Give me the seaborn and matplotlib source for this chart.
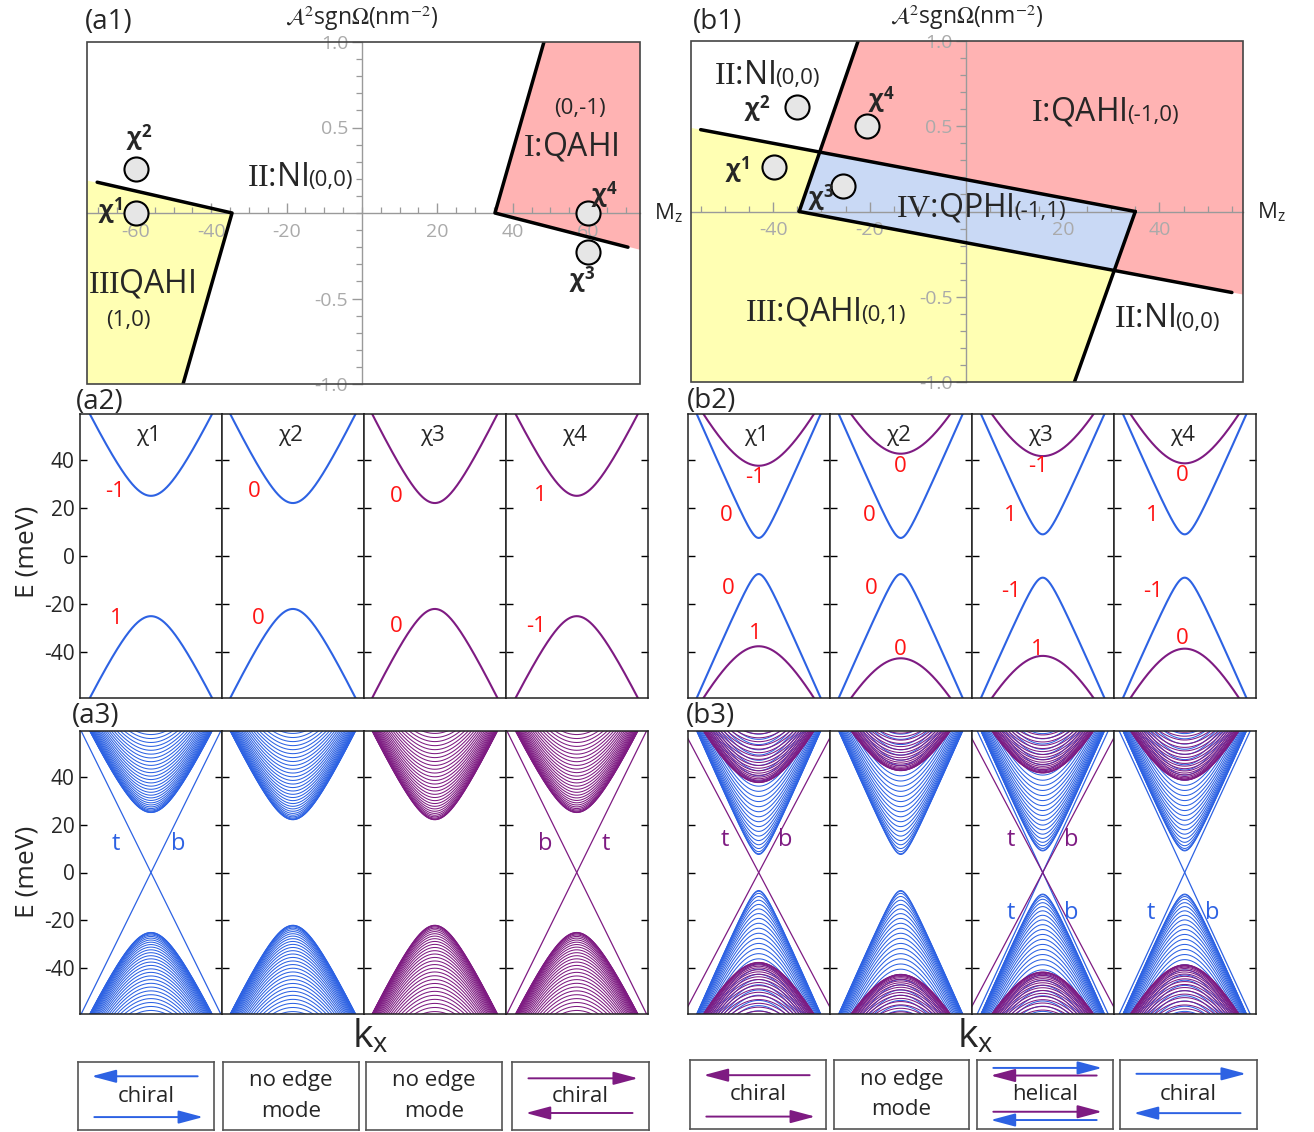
import numpy as np
import pandas as pd
import matplotlib
matplotlib.use("Agg")
import matplotlib.pyplot as plt
from matplotlib.patches import Rectangle
import seaborn as sns

sns.set_style("white")
plt.rcParams["font.family"] = ["Open Sans", "DejaVu Sans"]
plt.rcParams.update({
    "axes.unicode_minus": False,
    "mathtext.fontset": "custom",
    "mathtext.rm": "Liberation Serif",
    "mathtext.it": "Liberation Serif:italic",
    "mathtext.bf": "Open Sans:bold",
    "mathtext.sf": "Open Sans",
})

BLUE = "#2d62e3"
PURPLE = "#7e1b82"
RED = "#ff1414"
PINK = "#ffb3b3"
YELLOW = "#ffffb3"
LBLUE = "#c9d9f5"
GRID = "#9a9a9a"
TICKLAB = "#aaaaaa"
FRAME = "#444444"

# ---------------- phase diagram (a1) ----------------
a1_xlim = (-73.0, 73.8)
a1_pts_M = [-60, -60, 60, 60]
a1_pts_A = [0.0, 0.26, -0.23, 0.0]
a1_pts_name = ["1", "2", "3", "4"]
a1_name_M = [-66.9, -59.2, 58.4, 64.2]
a1_name_A = [0.01, 0.44, -0.39, 0.105]
a1_yellow_M = [-73.0, -34.5, -47.5, -73.0]
a1_yellow_A = [0.19, 0.0, -1.0, -1.0]
a1_pink_M = [35.3, 48.3, 73.8, 73.8]
a1_pink_A = [0.0, 1.0, 1.0, -0.215]
a1_bound_left_M = [-70.3, -34.5, -47.5]
a1_bound_left_A = [0.18, 0.0, -1.0]
a1_bound_right_M = [48.3, 35.3, 70.6]
a1_bound_right_A = [1.0, 0.0, -0.2]

# ---------------- phase diagram (b1) ----------------
b1_xlim = (-57.0, 57.3)
b1_pts_M = [-39.8, -35.0, -25.5, -20.5]
b1_pts_A = [0.26, 0.61, 0.15, 0.50]
b1_pts_name = ["1", "2", "3", "4"]
b1_name_M = [-47.4, -43.3, -30.0, -17.6]
b1_name_A = [0.245, 0.60, 0.08, 0.655]
b1_pink_M = [-22.4, 57.3, 57.3, 30.64, 35.0, -30.35]
b1_pink_A = [1.0, 1.0, -0.487, -0.346, 0.0, 0.3485]
b1_blue_M = [-34.6, -30.35, 35.0, 30.64]
b1_blue_A = [0.0, 0.3485, 0.0, -0.346]
b1_yellow_M = [-57.0, -30.35, -34.6, 30.64, 22.4, -57.0]
b1_yellow_A = [0.4907, 0.3485, 0.0, -0.346, -1.0, -1.0]
b1_bounds = [
    ([-55.0, 35.0], [0.48, 0.0]),
    ([-34.6, 55.0], [0.0, -0.475]),
    ([-34.6, -22.4], [0.0, 1.0]),
    ([35.0, 22.4], [0.0, -1.0]),
]

# ---------------- bulk bands (a2 / b2) ----------------
panel_names = ["χ1", "χ2", "χ3", "χ4"]
a2_gap = [25.0, 22.0, 22.0, 25.0]
a2_color = [BLUE, BLUE, PURPLE, PURPLE]
a2_velocity = 62.0
a2_chern_txt = [["-1", "1"], ["0", "0"], ["0", "0"], ["1", "-1"]]
a2_chern_k = [[-0.51, -0.49], [-0.54, -0.49], [-0.55, -0.55], [-0.52, -0.57]]
a2_chern_E = [[27.0, -26.0], [26.7, -25.8], [24.6, -29.2], [25.0, -29.2]]

b2_blue_gap = [7.5, 7.5, 9.0, 9.0]
b2_purple_gap = [37.5, 42.5, 41.5, 38.5]
b2_blue_velocity = 67.0
b2_purple_velocity = 58.5
b2_chern_txt = [["-1", "0", "0", "1"], ["0", "0", "0", "0"],
                ["-1", "1", "-1", "1"], ["0", "1", "-1", "0"]]
b2_chern_k = [[-0.05, -0.46, -0.43, -0.05], [-0.01, -0.45, -0.42, -0.01],
              [-0.07, -0.45, -0.44, -0.07], [-0.03, -0.45, -0.44, -0.03]]
b2_chern_E = [[32.5, 16.7, -13.7, -32.0], [37.0, 16.7, -13.7, -38.8],
              [37.0, 16.7, -14.6, -38.8], [33.3, 16.7, -14.6, -34.2]]

# ---------------- slab spectra (a3 / b3) ----------------
a3_subband_step = 1.85
a3_subband_count = 33
a3_edge_velocity = [60.0, 0.0, 0.0, 60.0]
a3_edge_tags = [[("t", -0.49, 12.0), ("b", 0.38, 12.0)], [], [],
                [("b", -0.44, 12.0), ("t", 0.41, 12.0)]]

b3_blue_step, b3_blue_count = 2.2, 30
b3_purple_step, b3_purple_count = 2.2, 23
b3_purple_edge_velocity = [56.0, 0.0, 56.0, 0.0]
b3_blue_edge_velocity = [0.0, 0.0, 64.0, 64.0]
b3_edge_tags = [
    [("t", -0.48, 13.7, PURPLE), ("b", 0.38, 13.7, PURPLE)],
    [],
    [("t", -0.45, 13.7, PURPLE), ("b", 0.40, 13.7, PURPLE),
     ("t", -0.45, -16.7, BLUE), ("b", 0.40, -16.7, BLUE)],
    [("t", -0.48, -16.7, BLUE), ("b", 0.39, -16.7, BLUE)],
]

# ---------------- edge-mode schematic boxes ----------------
a_box_text = ["chiral", "no edge\nmode", "no edge\nmode", "chiral"]
a_box_arrows = [[(0.79, "left", BLUE), (0.19, "right", BLUE)], [], [],
                [(0.76, "right", PURPLE), (0.25, "left", PURPLE)]]
b_box_text = ["chiral", "no edge\nmode", "helical", "chiral"]
b_box_arrows = [[(0.78, "left", PURPLE), (0.18, "right", PURPLE)], [],
                [(0.885, "right", BLUE), (0.775, "left", PURPLE),
                 (0.25, "right", PURPLE), (0.13, "left", BLUE)],
                [(0.80, "right", BLUE), (0.23, "left", BLUE)]]

W, H = 1314, 1132
fig = plt.figure(figsize=(W / 100, H / 100), dpi=100)


def px_axes(l, t, r, b):
    return fig.add_axes([l / W, 1 - b / H, (r - l) / W, (b - t) / H])


def phase_axes(ax, xlim, xticks):
    ax.set_axisbelow(False)
    for s in ["top", "right"]:
        ax.spines[s].set_visible(False)
    ax.spines["left"].set_position(("data", 0))
    ax.spines["bottom"].set_position(("data", 0))
    for s in ["left", "bottom"]:
        ax.spines[s].set_color(GRID)
        ax.spines[s].set_linewidth(1.0)
    minor = np.arange(-70, 71, 5)
    minor = minor[(minor > xlim[0]) & (minor < xlim[1])]
    ax.set_xticks(xticks)
    ax.set_xticklabels([str(v) for v in xticks])
    ax.set_xticks(minor, minor=True)
    ax.set_yticks([-1, -0.5, 0.5, 1])
    ax.set_yticklabels(["-1.0", "-0.5", "0.5", "1.0"])
    ax.set_yticks(np.round(np.arange(-1, 1.01, 0.1), 2), minor=True)
    ax.set_xlim(*xlim)
    ax.set_ylim(-1, 1)
    ax.tick_params(axis="x", which="both", direction="in", bottom=True,
                   color=GRID, labelcolor=TICKLAB, labelsize=14, pad=7)
    ax.tick_params(axis="y", which="both", direction="out", left=True,
                   color=GRID, labelcolor=TICKLAB, labelsize=14, pad=3)
    ax.tick_params(which="major", length=7, width=1)
    ax.tick_params(which="minor", length=4, width=0.9)
    ax.add_patch(Rectangle((0, 0), 1, 1, transform=ax.transAxes, fill=False,
                           ec=FRAME, lw=1.2, clip_on=False, zorder=6))
    ax.text(0, 1.07, r"$\mathcal{A}^2$sgn$\Omega$(nm$^{-2}$)",
            transform=ax.get_xaxis_transform(), ha="center", va="center",
            fontsize=16.5, math_fontfamily="stix")
    ax.text(1.025, 0, r"M$_{\mathsf{z}}$", transform=ax.get_yaxis_transform(),
            ha="left", va="center", fontsize=16)


def region_label(ax, x, y, main, sub, size=23):
    t = ax.text(x, y, main, fontsize=size, va="center", ha="left", zorder=7)
    if sub:
        ax.annotate(sub, xy=(1.0, 0.22), xycoords=t, fontsize=16,
                    va="baseline", ha="left", zorder=7)


def state_points(ax, M, A, names, nM, nA):
    sns.scatterplot(x=M, y=A, ax=ax, s=300, color="#e6e6e6",
                    edgecolor="black", linewidth=1.5, zorder=8, legend=False)
    for n, x, y in zip(names, nM, nA):
        ax.text(x, y, "χ$^{\\mathbf{" + n + "}}$", fontsize=17.5,
                fontweight="bold", ha="center", va="center", zorder=9)


# (a1)
ax = px_axes(87, 42, 640, 384)
ax.fill(a1_yellow_M, a1_yellow_A, color=YELLOW, lw=0, zorder=1)
ax.fill(a1_pink_M, a1_pink_A, color=PINK, lw=0, zorder=1)
ax.plot(a1_bound_left_M, a1_bound_left_A, color="black", lw=2.5, zorder=4)
ax.plot(a1_bound_right_M, a1_bound_right_A, color="black", lw=2.5, zorder=4)
state_points(ax, a1_pts_M, a1_pts_A, a1_pts_name, a1_name_M, a1_name_A)
phase_axes(ax, a1_xlim, [-60, -40, -20, 20, 40, 60])
region_label(ax, -30.5, 0.21, r"$\mathrm{II}$:NI", "(0,0)")
ax.text(57.9, 0.614, "(0,-1)", fontsize=16, ha="center", va="center")
ax.text(55.5, 0.386, r"$\mathrm{I}$:QAHI", fontsize=23, ha="center", va="center")
region_label(ax, -72.7, -0.415, r"$\mathrm{III}$QAHI", None)
ax.text(-61.9, -0.63, "(1,0)", fontsize=16, ha="center", va="center")
ax.set_xlabel("")
ax.set_ylabel("")

# (b1)
ax = px_axes(691, 41, 1243, 382)
ax.fill(b1_yellow_M, b1_yellow_A, color=YELLOW, lw=0, zorder=1)
ax.fill(b1_pink_M, b1_pink_A, color=PINK, lw=0, zorder=1)
ax.fill(b1_blue_M, b1_blue_A, color=LBLUE, lw=0, zorder=1)
for bm, ba in b1_bounds:
    ax.plot(bm, ba, color="black", lw=2.5, zorder=4)
state_points(ax, b1_pts_M, b1_pts_A, b1_pts_name, b1_name_M, b1_name_A)
phase_axes(ax, b1_xlim, [-40, -20, 20, 40])
region_label(ax, -52.2, 0.80, r"$\mathrm{II}$:NI", "(0,0)")
region_label(ax, 13.5, 0.585, r"$\mathrm{I}$:QAHI", "(-1,0)")
region_label(ax, -14.5, 0.02, r"$\mathrm{IV}$:QPHI", "(-1,1)")
region_label(ax, -45.8, -0.59, r"$\mathrm{III}$:QAHI", "(0,1)")
region_label(ax, 30.6, -0.63, r"$\mathrm{II}$:NI", "(0,0)")
ax.set_xlabel("")
ax.set_ylabel("")

# ---------------- band panels ----------------
k = np.linspace(-1, 1, 401)


def dirac(gap, v, q=0.0):
    return np.sqrt(gap ** 2 + q ** 2 + (v * k) ** 2)


def draw_curves(ax, curves, color, lw):
    df = pd.DataFrame({
        "k": np.tile(k, len(curves)),
        "E": np.concatenate(curves),
        "band": np.repeat(np.arange(len(curves)), k.size),
    })
    sns.lineplot(data=df, x="k", y="E", units="band", estimator=None,
                 sort=False, color=color, lw=lw, ax=ax, legend=False)


def band_frame(ax, show_labels):
    ax.set_xlim(-1, 1)
    ax.set_ylim(-59, 59)
    ax.set_xticks([])
    ax.set_yticks([-40, -20, 0, 20, 40])
    ax.tick_params(axis="y", direction="in", left=True, right=True,
                   length=5, width=1, color="black", labelsize=15,
                   labelleft=show_labels, pad=4)
    for s in ax.spines.values():
        s.set_color("#222222")
        s.set_linewidth(1.1)
        s.set_visible(True)
    ax.set_xlabel("")
    ax.set_ylabel("")


def panel_row(left, right, top, bottom):
    w = (right - left) / 4
    return [px_axes(left + i * w, top, left + (i + 1) * w, bottom) for i in range(4)]


# (a2)
for i, ax in enumerate(panel_row(80, 647.7, 414, 698)):
    ec = dirac(a2_gap[i], a2_velocity)
    draw_curves(ax, [ec, -ec], a2_color[i], 1.5)
    band_frame(ax, i == 0)
    ax.text(-0.03, 50, panel_names[i], fontsize=16, ha="center", va="center")
    for t, kk, ee in zip(a2_chern_txt[i], a2_chern_k[i], a2_chern_E[i]):
        ax.text(kk, ee, t, color=RED, fontsize=16, ha="center", va="center")

# (b2)
for i, ax in enumerate(panel_row(687.7, 1255.7, 414, 698)):
    eb = dirac(b2_blue_gap[i], b2_blue_velocity)
    ep = dirac(b2_purple_gap[i], b2_purple_velocity)
    draw_curves(ax, [eb, -eb], BLUE, 1.5)
    draw_curves(ax, [ep, -ep], PURPLE, 1.5)
    band_frame(ax, False)
    ax.text(-0.03, 50, panel_names[i], fontsize=16, ha="center", va="center")
    for t, kk, ee in zip(b2_chern_txt[i], b2_chern_k[i], b2_chern_E[i]):
        ax.text(kk, ee, t, color=RED, fontsize=16, ha="center", va="center")

# (a3)
for i, ax in enumerate(panel_row(80, 647.7, 731, 1014)):
    subs = []
    for n in range(a3_subband_count):
        e = dirac(a2_gap[i], a2_velocity, a3_subband_step * n)
        subs += [e, -e]
    draw_curves(ax, subs, a2_color[i], 0.75)
    if a3_edge_velocity[i] > 0:
        v = a3_edge_velocity[i]
        draw_curves(ax, [v * k, -v * k], a2_color[i], 0.9)
    band_frame(ax, i == 0)
    for t, kk, ee in a3_edge_tags[i]:
        ax.text(kk, ee, t, color=a2_color[i], fontsize=17, ha="center", va="center")

# (b3)
for i, ax in enumerate(panel_row(687.7, 1255.7, 731, 1014)):
    subs_b, subs_p = [], []
    for n in range(b3_blue_count):
        e = dirac(b2_blue_gap[i], b2_blue_velocity, b3_blue_step * n)
        subs_b += [e, -e]
    for n in range(b3_purple_count):
        e = dirac(b2_purple_gap[i], b2_purple_velocity, b3_purple_step * n)
        subs_p += [e, -e]
    draw_curves(ax, subs_b, BLUE, 0.75)
    draw_curves(ax, subs_p, PURPLE, 0.75)
    if b3_blue_edge_velocity[i] > 0:
        v = b3_blue_edge_velocity[i]
        draw_curves(ax, [v * k, -v * k], BLUE, 0.9)
    if b3_purple_edge_velocity[i] > 0:
        v = b3_purple_edge_velocity[i]
        draw_curves(ax, [v * k, -v * k], PURPLE, 0.9)
    band_frame(ax, False)
    for t, kk, ee, c in b3_edge_tags[i]:
        ax.text(kk, ee, t, color=c, fontsize=17, ha="center", va="center")

# ---------------- edge-mode boxes ----------------
def mode_box(l, t, r, b, text, arrows):
    ax = px_axes(l, t, r, b)
    ax.set_xlim(0, 1)
    ax.set_ylim(0, 1)
    ax.set_xticks([])
    ax.set_yticks([])
    for s in ax.spines.values():
        s.set_color("#555555")
        s.set_linewidth(1.2)
        s.set_visible(True)
    ax.text(0.5, 0.5, text, fontsize=16, ha="center", va="center",
            linespacing=1.6)
    for y, d, c in arrows:
        tail, tip = (0.88, 0.10) if d == "left" else (0.12, 0.92)
        ax.annotate("", xy=(tip, y), xytext=(tail, y),
                    arrowprops=dict(arrowstyle="-|>,head_length=0.75,head_width=0.2",
                                    color=c, lw=1.4, mutation_scale=20,
                                    shrinkA=0, shrinkB=0))


a_boxes = [(78, 214), (223, 359), (366, 502), (512, 649)]
b_boxes = [(690, 826), (834, 969), (977, 1113), (1120, 1257)]
for (l, r), txt, arr in zip(a_boxes, a_box_text, a_box_arrows):
    mode_box(l, 1062, r, 1130, txt, arr)
for (l, r), txt, arr in zip(b_boxes, b_box_text, b_box_arrows):
    mode_box(l, 1060, r, 1129, txt, arr)

# ---------------- figure-level labels ----------------
for lab, x, y in [("(a1)", 85, 22), ("(b1)", 693, 22), ("(a2)", 76, 402),
                  ("(b2)", 687, 401), ("(a3)", 72, 716), ("(b3)", 686, 716)]:
    fig.text(x / W, 1 - y / H, lab, fontsize=20, ha="left", va="center")
for y in [552, 872]:
    fig.text(27 / W, 1 - y / H, "E (meV)", fontsize=19, rotation=90,
             ha="center", va="center")
for x in [370, 975]:
    fig.text(x / W, 1 - 1037 / H, r"k$_{\mathsf{x}}$", fontsize=28,
             ha="center", va="center")

fig.savefig("out.png", dpi=100)
